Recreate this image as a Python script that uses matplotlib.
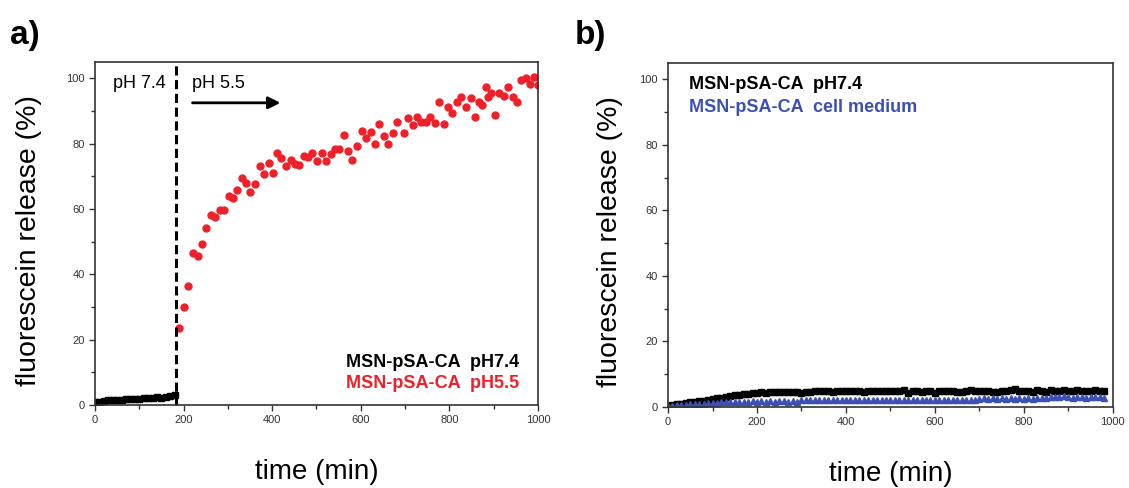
import numpy as np
import matplotlib
matplotlib.use('Agg')
import matplotlib.pyplot as plt
from matplotlib.ticker import MultipleLocator

plt.rcParams['font.family'] = ['Liberation Sans', 'DejaVu Sans']

# panel a: pH 7.4 before the switch, pH 5.5 afterwards
switch_time = 183
a_time_74 = [0, 10, 20, 30, 40, 50, 60, 70, 80, 90, 100, 110, 120, 130, 140, 150, 160, 170, 180]
a_rel_74 = [0.8, 1.0, 1.2, 1.4, 1.5, 1.6, 1.6, 1.8, 1.9, 2.0, 2.0, 2.1, 2.2, 2.2, 2.4, 2.3, 2.5, 2.7, 3.0]

a_time_55 = [190, 202, 211, 222, 232, 242, 251, 262, 271, 282, 291, 302, 312, 321, 331, 341,
             351, 361, 372, 381, 392, 402, 412, 421, 432, 442, 452, 461, 472, 482, 491, 502,
             512, 521, 532, 542, 551, 562, 572, 581, 591, 602, 612, 622, 632, 642, 652, 662,
             672, 682, 697, 707, 717, 727, 737, 747, 757, 767, 777, 788, 797, 807, 817, 827,
             837, 848, 858, 868, 873, 883, 888, 893, 903, 913, 923, 933, 943, 952, 962, 972,
             982, 992, 1001]
a_rel_55 = [23.5, 30.1, 36.4, 46.4, 45.6, 49.3, 54.1, 58.2, 57.7, 59.7, 59.7, 64.0, 63.3, 65.8,
            69.4, 68.1, 65.3, 67.7, 73.2, 70.7, 74.2, 71.1, 77.0, 75.5, 73.2, 75.0, 73.8, 73.5,
            76.3, 75.8, 77.0, 74.8, 77.0, 74.8, 76.8, 78.3, 78.3, 82.7, 77.6, 75.0, 79.3, 84.0,
            81.6, 83.7, 79.9, 86.0, 82.3, 79.9, 83.4, 86.7, 83.2, 87.8, 85.7, 88.1, 86.7, 86.7,
            88.1, 86.4, 92.9, 85.9, 91.3, 89.3, 92.6, 94.2, 91.3, 93.9, 88.1, 92.6, 91.8, 97.2,
            94.2, 95.4, 88.8, 95.6, 94.5, 97.4, 94.2, 92.9, 99.5, 100.0, 98.3, 100.5, 98.0]

# panel b: pH 7.4 buffer vs cell medium
b_time = list(range(0, 990, 10))
b_rel_74 = [0.3, 0.5, 0.8, 1.0, 1.2, 1.5, 1.6, 1.7, 1.9, 2.0, 2.3, 2.6, 2.8, 3.0, 3.3, 3.6, 3.8, 4.0, 4.1, 4.2,
            4.3, 4.5, 4.4, 4.6, 4.5, 4.6, 4.7, 4.5, 4.6, 4.7, 4.4, 4.6, 4.7, 4.8, 4.8, 4.9, 4.8, 4.7, 4.9, 4.8,
            5.0, 4.9, 4.8, 5.0, 4.7, 4.9, 5.0, 4.8, 4.9, 5.0, 4.8, 4.9, 4.8, 5.2, 4.4, 4.8, 4.9, 4.6, 5.0, 4.9,
            4.4, 4.9, 5.0, 5.0, 5.0, 4.6, 4.7, 5.0, 5.1, 4.9, 5.0, 4.8, 4.9, 4.7, 4.6, 4.8, 4.9, 5.1, 5.4, 5.0,
            4.9, 5.0, 4.7, 5.1, 5.0, 4.6, 5.1, 4.8, 5.0, 5.3, 4.9, 4.8, 5.1, 4.9, 4.8, 5.0, 5.1, 4.8, 5.0]
b_rel_medium = [0.2, 0.3, 0.5, 0.6, 0.7, 0.8, 0.9, 1.0, 1.0, 1.1, 1.2, 1.3, 1.4, 1.4, 1.5, 1.5, 1.6, 1.6, 1.6, 1.7,
                1.6, 1.7, 1.6, 1.7, 1.6, 1.7, 1.7, 1.6, 1.7, 1.6, 2.0, 2.1, 2.0, 2.1, 2.0, 2.1, 2.0, 2.1, 2.0, 2.1,
                2.0, 2.1, 2.0, 2.1, 2.0, 2.1, 2.0, 2.1, 2.0, 2.1, 2.0, 2.1, 2.0, 2.1, 2.0, 2.1, 2.0, 2.2, 2.0, 2.1,
                2.0, 2.2, 2.0, 2.1, 2.0, 2.1, 2.0, 2.1, 2.0, 2.1, 2.5, 2.6, 2.5, 2.6, 2.5, 2.6, 2.5, 2.7, 2.5, 2.6,
                2.4, 2.6, 2.5, 2.8, 2.6, 2.7, 3.0, 3.2, 3.0, 3.3, 2.9, 2.8, 2.9, 3.0, 2.8, 2.9, 3.0, 2.9, 2.8]

RED = '#f0202a'
BLUE = '#3b50b2'
EDGE = '#333333'


def style_axis(ax, ylabel_x):
    ax.set_xlim(0, 1000)
    ax.set_ylim(0, 105)
    ax.xaxis.set_major_locator(MultipleLocator(200))
    ax.xaxis.set_minor_locator(MultipleLocator(100))
    ax.yaxis.set_major_locator(MultipleLocator(20))
    ax.yaxis.set_minor_locator(MultipleLocator(10))
    ax.tick_params(which='both', direction='out', top=False, right=False,
                   color=EDGE, labelsize=8, labelcolor='#333333')
    ax.tick_params(which='major', length=4, width=1)
    ax.tick_params(which='minor', length=3, width=1)
    for s in ax.spines.values():
        s.set_color(EDGE)
        s.set_linewidth(1.2)
    ax.set_xlabel('time (min)', fontsize=20)
    ax.set_ylabel('fluorescein release (%)', fontsize=20.5)
    ax.xaxis.set_label_coords(0.5, -0.158)
    ax.yaxis.set_label_coords(ylabel_x, 0.48)


fig = plt.figure(figsize=(11.29, 4.88), dpi=100)
ax_a = fig.add_axes([0.0841, 0.170, 0.3924, 0.703])
ax_b = fig.add_axes([0.5917, 0.166, 0.3940, 0.705])

# --- panel a ---
ax_a.plot(a_time_74, a_rel_74, ls='none', marker='s', ms=4, color='black')
ax_a.plot(a_time_55, a_rel_55, ls='none', marker='o', ms=5, color=RED)
ax_a.plot([switch_time, switch_time], [0, 105], ls='--', lw=2.2, color='black',
          dashes=(3, 1.5), clip_on=False)
ax_a.text(40, 98.5, 'pH 7.4', fontsize=13, va='center')
ax_a.text(218, 98.5, 'pH 5.5', fontsize=13, va='center')
ax_a.annotate('', xy=(425, 92.5), xytext=(214, 92.5),
              arrowprops=dict(arrowstyle='-|>', color='black', lw=2, mutation_scale=18))
ax_a.text(958, 13, 'MSN-pSA-CA  pH7.4', fontsize=13, fontweight='bold',
          ha='right', va='center', color='black')
ax_a.text(958, 6.6, 'MSN-pSA-CA  pH5.5', fontsize=13, fontweight='bold',
          ha='right', va='center', color=RED)
style_axis(ax_a, -0.12)

# --- panel b ---
ax_b.plot(b_time, b_rel_74, ls='none', marker='s', ms=4, color='black')
ax_b.plot(b_time, b_rel_medium, ls='none', marker='^', ms=4.5, color=BLUE)
ax_b.text(48, 98.5, 'MSN-pSA-CA  pH7.4', fontsize=13, fontweight='bold',
          ha='left', va='center', color='black')
ax_b.text(48, 91.3, 'MSN-pSA-CA  cell medium', fontsize=13, fontweight='bold',
          ha='left', va='center', color=BLUE)
style_axis(ax_b, -0.101)

fig.text(10 / 1129, 1 - 20 / 488, 'a)', fontsize=24, fontweight='bold', va='top')
fig.text(575 / 1129, 1 - 20 / 488, 'b)', fontsize=24, fontweight='bold', va='top')

fig.savefig('out.png', dpi=100)
